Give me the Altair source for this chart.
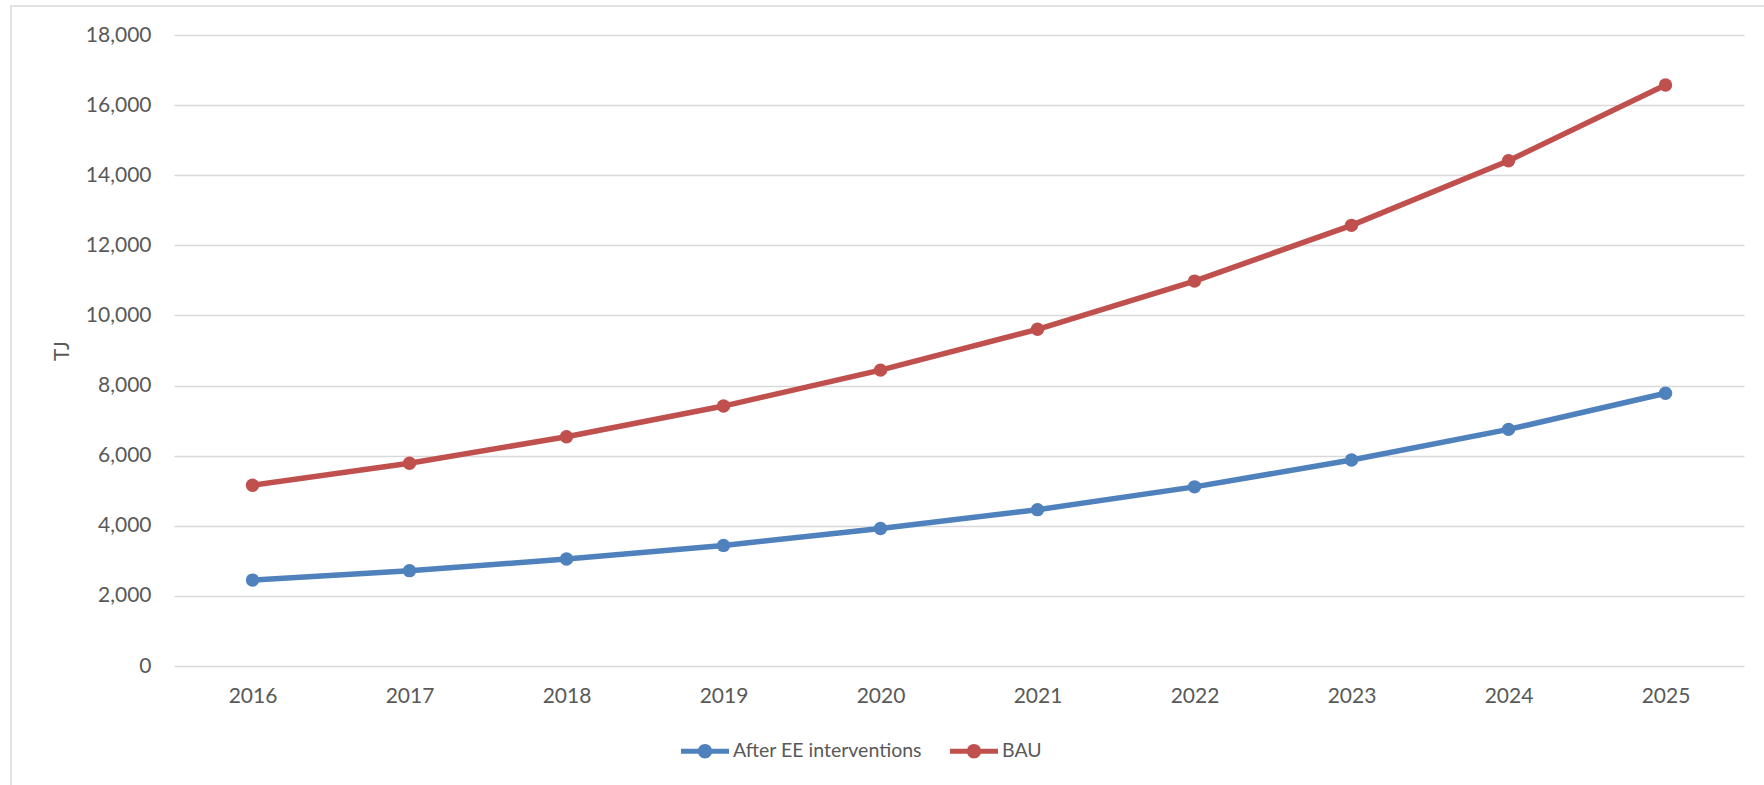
import altair as alt
import pandas as pd

# Energy demand projection, TJ
years = ["2016", "2017", "2018", "2019", "2020", "2021", "2022", "2023", "2024", "2025"]
after_ee = [2450, 2720, 3050, 3440, 3920, 4460, 5110, 5875, 6750, 7780]
bau = [5155, 5785, 6540, 7415, 8440, 9605, 10980, 12570, 14415, 16575]
series_names = ["After EE interventions", "BAU"]
series_colors = ["#4F81BD", "#C0504D"]
y_ticks = list(range(0, 18001, 2000))

rows = []
for name, vals in zip(series_names, [after_ee, bau]):
    for yr, v in zip(years, vals):
        rows.append({"Year": yr, "Value": v, "Series": name})
df = pd.DataFrame(rows)

W, H = 1570, 631
FONT = "Lato"
TEXT = "#595959"

# legend glyph: a thick line segment with a dot in the middle
legend_glyph = (
    "M-1,-0.1H1V0.1H-1Z "
    "M-0.3,0A0.3,0.3 0 1,1 0.3,0A0.3,0.3 0 1,1 -0.3,0Z"
)

color = alt.Color(
    "Series:N",
    scale=alt.Scale(domain=series_names, range=series_colors),
    legend=alt.Legend(
        title=None,
        orient="none",
        direction="horizontal",
        legendX=507,
        legendY=692,
        symbolType=legend_glyph,
        symbolSize=2304,
        symbolStrokeWidth=0,
        labelFont=FONT,
        labelFontSize=19.5,
        labelColor=TEXT,
        labelOffset=4,
        labelLimit=0,
        columnPadding=28,
        padding=0,
    ),
)

x = alt.X(
    "Year:O",
    sort=years,
    scale=alt.Scale(paddingInner=0, paddingOuter=0.5, align=0.5),
    axis=alt.Axis(
        title=None,
        labelAngle=0,
        labelFont=FONT,
        labelFontSize=21,
        labelColor=TEXT,
        labelPadding=19,
        ticks=False,
        domain=False,
        grid=False,
    ),
)
y = alt.Y(
    "Value:Q",
    scale=alt.Scale(domain=[0, 18000], nice=False),
    axis=alt.Axis(
        title="TJ",
        titleFont=FONT,
        titleFontSize=21,
        titleFontWeight="normal",
        titleColor=TEXT,
        titlePadding=13,
        values=y_ticks,
        format=",.0f",
        labelFont=FONT,
        labelFontSize=21,
        labelColor=TEXT,
        labelPadding=23,
        ticks=False,
        domain=False,
        gridColor="#D9D9D9",
        gridWidth=1.3,
    ),
)

# thin outer border of the chart area
frame = alt.Chart(pd.DataFrame({"k": [0]})).mark_rect(
    filled=False, stroke="#D9D9D9", strokeWidth=1.5
).encode(
    x=alt.value(-163), x2=alt.value(W + 60),
    y=alt.value(-29), y2=alt.value(H + 160),
)

lines = alt.Chart(df).mark_line(strokeWidth=5.5, strokeCap="round").encode(
    x=x, y=y, color=color
)
points = alt.Chart(df).mark_point(filled=True, size=180, opacity=1).encode(
    x=x, y=y, color=color
)

chart = alt.layer(frame, lines, points).properties(
    width=W,
    height=H,
    autosize=alt.AutoSizeParams(type="none"),
    padding={"left": 174, "top": 35, "right": 20, "bottom": 119},
    background="white",
).configure_view(stroke=None)

chart.save("out.html", embed_options={"renderer": "svg", "actions": False})
